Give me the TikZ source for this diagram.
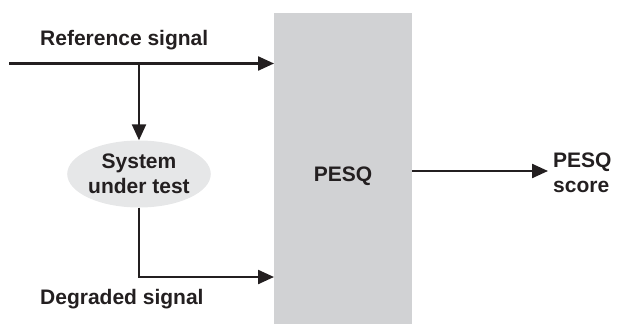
\documentclass[tikz,border=0pt]{standalone}
\usepackage{fontspec}
\setmainfont{Liberation Sans}
\usetikzlibrary{arrows.meta,shapes.geometric}
\definecolor{boxgray}{HTML}{D1D2D4}
\definecolor{ellgray}{HTML}{E6E7E8}
\definecolor{ink}{HTML}{231F20}
\begin{document}
\begin{tikzpicture}[x=1pt,y=-1pt,
  conn/.style={draw=ink,line width=2.3pt,-{Triangle[length=16pt,width=14pt]}},
  lbl/.style={font=\bfseries\fontsize{21}{25}\selectfont,text=ink,inner sep=0pt},
  ]
\useasboundingbox (0,0) rectangle (617,324);
\fill[boxgray] (274,13) rectangle (412,324);
\node[lbl] (pesq) at (343,176) {PESQ};
\coordinate (pesqW1) at (274,63.5);
\coordinate (pesqW2) at (274,277);
\coordinate (pesqE) at (412,171);
\coordinate (start) at (9,63.5);
\coordinate (branch) at (139,63.5);
\coordinate (scoreIn) at (548,171);
\node[ellipse,fill=ellgray,minimum width=132pt,minimum height=67pt,inner sep=0pt,align=center,lbl] (sut) at (139,174) {System\\under test};
\coordinate (corner) at (139,277);
\node[lbl,anchor=west] (ref) at (40,40) {Reference signal};
\node[lbl,anchor=west] (deg) at (40,299) {Degraded signal};
\node[lbl,anchor=west,align=left] (score) at (553,173) {PESQ\\score};
\draw[conn] (start) -- (pesqW1);
\draw[conn] (branch) -- (sut.north);
\draw[conn] (sut.south) -- (corner) -- (pesqW2);
\draw[conn] (pesqE) -- (scoreIn);
\end{tikzpicture}
\end{document}
